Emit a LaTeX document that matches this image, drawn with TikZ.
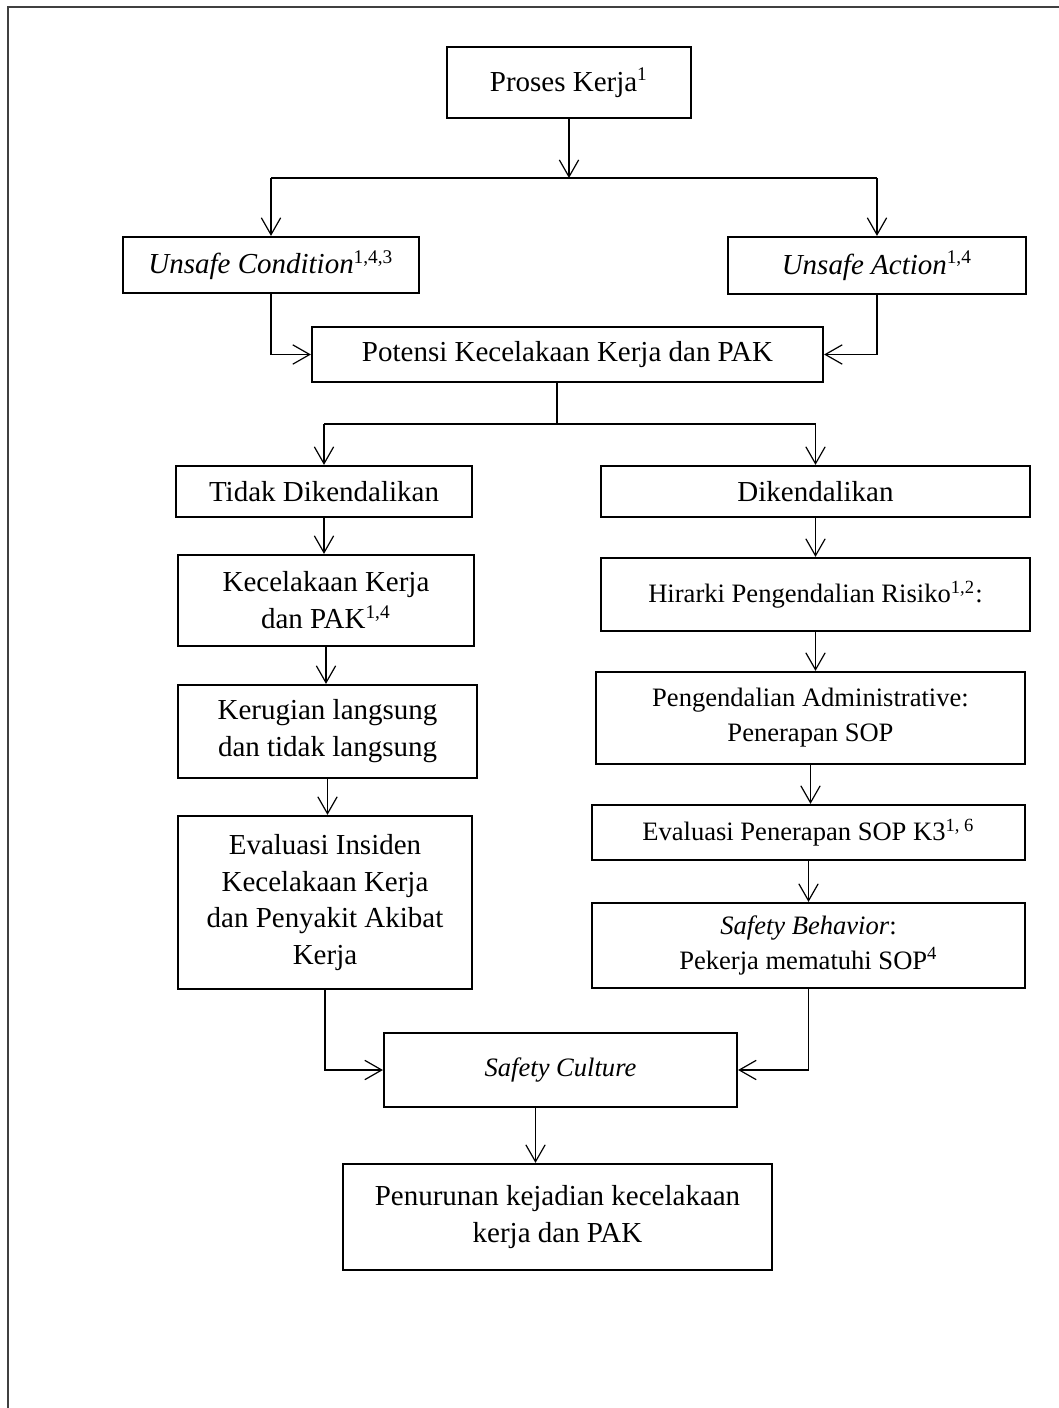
\documentclass[tikz,border=0pt]{standalone}
\usepackage{fontspec}
\setmainfont{Liberation Serif}
\usetikzlibrary{arrows.meta}

\newlength{\pxu}
\setlength{\pxu}{0.414pt}
\newcommand{\twelve}{\fontsize{12}{15.3}\selectfont}
\newcommand{\eleven}{\fontsize{11}{14.5}\selectfont}

\begin{document}
\begin{tikzpicture}[
  x=0.414pt, y=-0.414pt,
  >={Straight Barb[length=7pt, width=8pt]},
  box/.style={draw, line width=0.9pt, inner sep=0pt, align=center, font=\twelve},
  small/.style={font=\eleven},
  link/.style={->, line width=0.5pt},
  wire/.style={line width=0.5pt},
]

\useasboundingbox (0,0) rectangle (1059,1408);

% Page frame (top and left edge only)
\draw[line width=0.8pt, black!75] (8,1408) -- (8,7) -- (1059,7);

% ========================================
% Top part
% ========================================
\node[box, minimum width=244\pxu, minimum height=71\pxu] (proses) at (569,82.5)
  {Proses Kerja\textsuperscript{1}};

\node[box, minimum width=296\pxu, minimum height=56\pxu] (ucond) at (271,265)
  {\textit{Unsafe Condition}\textsuperscript{1,4,3}};
\node[box, minimum width=298\pxu, minimum height=57\pxu] (uact) at (877,265.5)
  {\textit{Unsafe Action}\textsuperscript{1,4}};

\node[box, minimum width=511\pxu, minimum height=55\pxu] (potensi) at (567.5,354.5)
  {Potensi Kecelakaan Kerja dan PAK};

\coordinate (fork1) at (569,178);
\coordinate (fork2) at (557,424);

% ========================================
% Left column: not controlled
% ========================================
\node[box, minimum width=296\pxu, minimum height=51\pxu] (tidak) at (324,491.5)
  {Tidak Dikendalikan};
\node[box, minimum width=296\pxu, minimum height=91\pxu] (kecel) at (326,600.5)
  {Kecelakaan Kerja\\dan PAK\textsuperscript{1,4}};
\node[box, minimum width=299\pxu, minimum height=93\pxu] (rugi) at (327.5,731.5)
  {Kerugian langsung\\dan tidak langsung};
\node[box, minimum width=294\pxu, minimum height=173\pxu] (evins) at (325,902.5)
  {Evaluasi Insiden\\Kecelakaan Kerja\\dan Penyakit Akibat\\Kerja};

% ========================================
% Right column: controlled
% ========================================
\node[box, minimum width=429\pxu, minimum height=51\pxu] (dik) at (815.5,491.5)
  {Dikendalikan};
\node[box, small, minimum width=429\pxu, minimum height=73\pxu] (hirarki) at (815.5,594.5)
  {Hirarki Pengendalian Risiko\textsuperscript{1,2}:};
\node[box, small, minimum width=429\pxu, minimum height=92\pxu] (admin) at (810.5,718)
  {Pengendalian Administrative:\\Penerapan SOP};
\node[box, small, minimum width=433\pxu, minimum height=55\pxu] (evsop) at (808.5,832.5)
  {Evaluasi Penerapan SOP K3\textsuperscript{1, 6}};
\node[box, small, minimum width=433\pxu, minimum height=85\pxu] (behav) at (808.5,945.5)
  {\textit{Safety Behavior}:\\Pekerja mematuhi SOP\textsuperscript{4}};

% ========================================
% Bottom part
% ========================================
\node[box, small, minimum width=353\pxu, minimum height=74\pxu] (culture) at (560.5,1070)
  {\textit{Safety Culture}};
\node[box, minimum width=429\pxu, minimum height=106\pxu] (turun) at (557.5,1217)
  {Penurunan kejadian kecelakaan\\kerja dan PAK};

% Connectors
\draw[link] (proses) -- (fork1);
\draw[wire] (fork1 -| ucond) -- (fork1 -| uact);
\draw[link] (fork1 -| ucond) -- (ucond);
\draw[link] (fork1 -| uact) -- (uact);
\draw[link] (ucond) |- (potensi);
\draw[link] (uact) |- (potensi);

\draw[wire] (fork2 |- potensi.south) -- (fork2);
\draw[wire] (fork2 -| tidak) -- (fork2 -| dik);
\draw[link] (fork2 -| tidak) -- (tidak);
\draw[link] (fork2 -| dik) -- (dik);

\draw[link] (tidak.south) -- (tidak.south |- kecel.north);
\draw[link] (kecel.south) -- (kecel.south |- rugi.north);
\draw[link] (rugi.south) -- (rugi.south |- evins.north);

\draw[link] (dik.south) -- (dik.south |- hirarki.north);
\draw[link] (hirarki.south) -- (hirarki.south |- admin.north);
\draw[link] (admin.south) -- (admin.south |- evsop.north);
\draw[link] (evsop.south) -- (evsop.south |- behav.north);

\draw[link] (evins) |- (culture);
\draw[link] (behav) |- (culture);
\draw[link] ([xshift=-25\pxu]culture.south) -- ([xshift=-25\pxu]culture.south |- turun.north);

\end{tikzpicture}
\end{document}
